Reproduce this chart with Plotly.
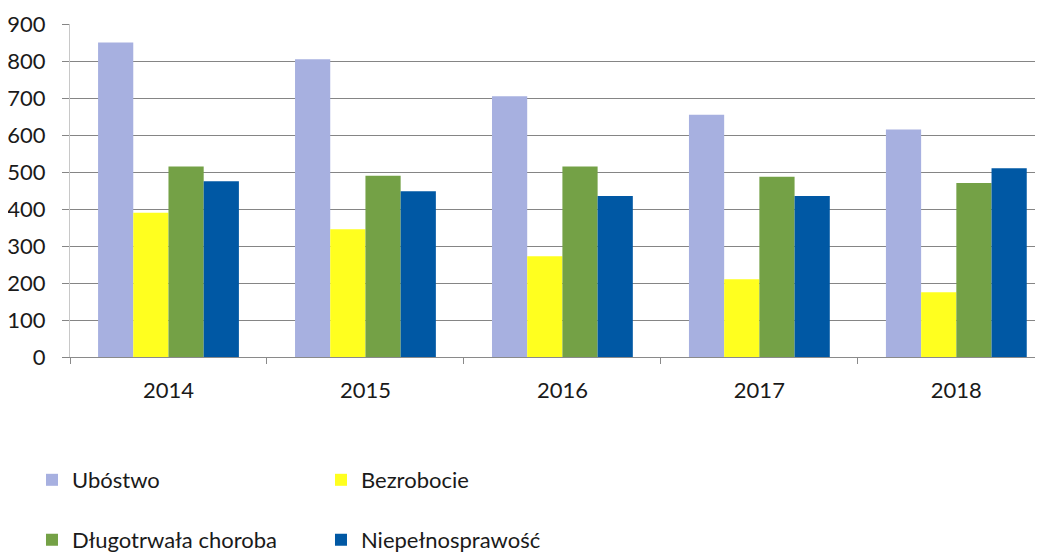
import plotly.graph_objects as go

years = ["2014", "2015", "2016", "2017", "2018"]
ubostwo = [850, 805, 705, 655, 615]
bezrobocie = [390, 345, 272, 210, 175]
choroba = [515, 490, 515, 487, 470]
niepelno = [475, 448, 435, 435, 510]
y_ticks = [0, 100, 200, 300, 400, 500, 600, 700, 800, 900]

series = [
    ("Ubóstwo", ubostwo, "#A7B0E0", "legend"),
    ("Bezrobocie", bezrobocie, "#FFFF1F", "legend"),
    ("Długotrwała choroba", choroba, "#74A146", "legend2"),
    ("Niepełnosprawość", niepelno, "#0058A4", "legend2"),
]

fig = go.Figure()
for name, vals, color, lg in series:
    fig.add_trace(go.Bar(x=years, y=vals, name=name, marker_color=color,
                         marker_line_width=0, legend=lg))

font = dict(family="Lato, 'Open Sans', sans-serif", size=22, color="#1a1a1a")
legend_common = dict(orientation="h", xref="container", yref="container",
                     xanchor="left", yanchor="middle", entrywidth=244,
                     entrywidthmode="pixels", font=font, itemwidth=30,
                     traceorder="normal", bgcolor="rgba(0,0,0,0)")
fig.update_layout(
    width=1043, height=554,
    margin=dict(l=62, r=8, t=16, b=205, autoexpand=False),
    paper_bgcolor="white", plot_bgcolor="white",
    barmode="group", bargap=0.285, bargroupgap=0,
    font=font,
    showlegend=True,
    legend=dict(x=0.023, y=0.148, **legend_common),
    legend2=dict(x=0.023, y=0.040, **legend_common),
)
fig.update_xaxes(range=[-0.5, 4.44], showgrid=False, showline=True,
                 linecolor="#8a8a8a", linewidth=1, ticks="outside",
                 tickson="boundaries", ticklen=6, tickcolor="#8a8a8a",
                 tickfont=font, ticklabelstandoff=14, automargin=False)
fig.update_yaxes(range=[0, 900], tickvals=y_ticks, showgrid=True,
                 gridcolor="#858585", gridwidth=1.2, showline=True,
                 linecolor="#c8c8c8", ticks="outside", ticklen=7,
                 tickcolor="#858585", tickfont=font, zeroline=False,
                 ticklabelstandoff=12, automargin=False)

fig.write_html("out.html")
